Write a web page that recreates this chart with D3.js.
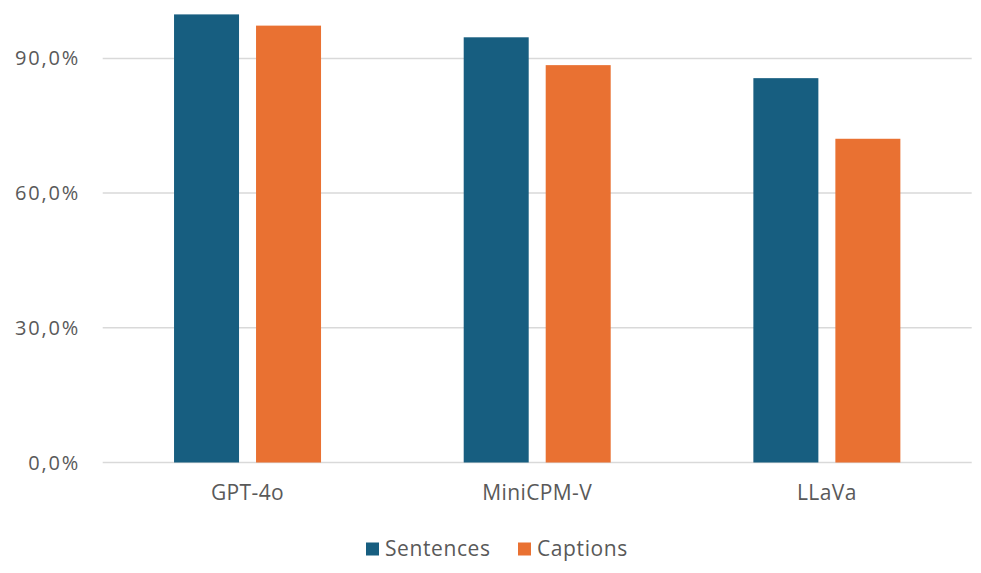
<!DOCTYPE html>
<html>
<head>
<meta charset="utf-8">
<script src="https://cdn.jsdelivr.net/npm/d3@7"></script>
<style>
  body { margin: 0; background: #fff; }
  text { font-family: "Open Sans", "Noto Sans", sans-serif; fill: #595959; }
</style>
</head>
<body>
<svg id="chart" width="981" height="573"></svg>
<script>
"use strict"

const models = ["GPT-4o", "MiniCPM-V", "LLaVa"];
const seriesNames = ["Sentences", "Captions"];
const sentences = [99.8, 94.7, 85.6];
const captions = [97.3, 88.5, 72.1];
const yTicks = [0, 30, 60, 90];
const colors = ["#175e80", "#e97132"];

const svg = d3.select("#chart");
const plotLeft = 102.7, plotRight = 971.7, plotBottom = 462.5;

const x = d3.scaleBand().domain(models).range([plotLeft, plotRight]);
const y = d3.scaleLinear().domain([0, 100]).range([plotBottom, plotBottom - 134.7 * 100 / 30]);

// gridlines
svg.append("g")
  .selectAll("line")
  .data(yTicks)
  .join("line")
  .attr("x1", plotLeft).attr("x2", plotRight)
  .attr("y1", d => y(d)).attr("y2", d => y(d))
  .attr("stroke", "#d9d9d9")
  .attr("stroke-width", 1.5);

// y labels
svg.append("g")
  .selectAll("text")
  .data(yTicks)
  .join("text")
  .attr("x", 80)
  .attr("y", d => y(d))
  .attr("dy", "0.35em")
  .attr("text-anchor", "end")
  .attr("font-size", 20)
  .attr("letter-spacing", 1.8)
  .text(d => d3.format(".1f")(d).replace(".", ",") + "%");

// bars
const barW = 65, gap = 17;
const rows = models.map((m, i) => ({ model: m, vals: [sentences[i], captions[i]] }));

const groups = svg.append("g")
  .selectAll("g")
  .data(rows)
  .join("g")
  .attr("transform", d => `translate(${x(d.model) + x.bandwidth() / 2 - (barW * 2 + gap) / 2},0)`);

groups.selectAll("rect")
  .data(d => d.vals.map((v, j) => ({ s: seriesNames[j], v: v, j: j })))
  .join("rect")
  .attr("x", d => d.j * (barW + gap))
  .attr("width", barW)
  .attr("y", d => y(d.v))
  .attr("height", d => y(0) - y(d.v))
  .attr("fill", d => colors[d.j]);

// category labels
svg.append("g")
  .selectAll("text")
  .data(models)
  .join("text")
  .attr("x", d => x(d) + x.bandwidth() / 2)
  .attr("y", 493)
  .attr("dy", "0.35em")
  .attr("text-anchor", "middle")
  .attr("font-size", 21)
  .attr("letter-spacing", 0.4)
  .text(d => d);

// legend
const legend = svg.append("g");
const legendX = [366, 518];
seriesNames.forEach((s, i) => {
  legend.append("rect")
    .attr("x", legendX[i]).attr("y", 542.5)
    .attr("width", 13).attr("height", 13)
    .attr("fill", colors[i]);
  legend.append("text")
    .attr("x", legendX[i] + 19).attr("y", 549)
    .attr("dy", "0.35em")
    .attr("font-size", 21)
    .attr("letter-spacing", 0.6)
    .text(s);
});
</script>
</body>
</html>
